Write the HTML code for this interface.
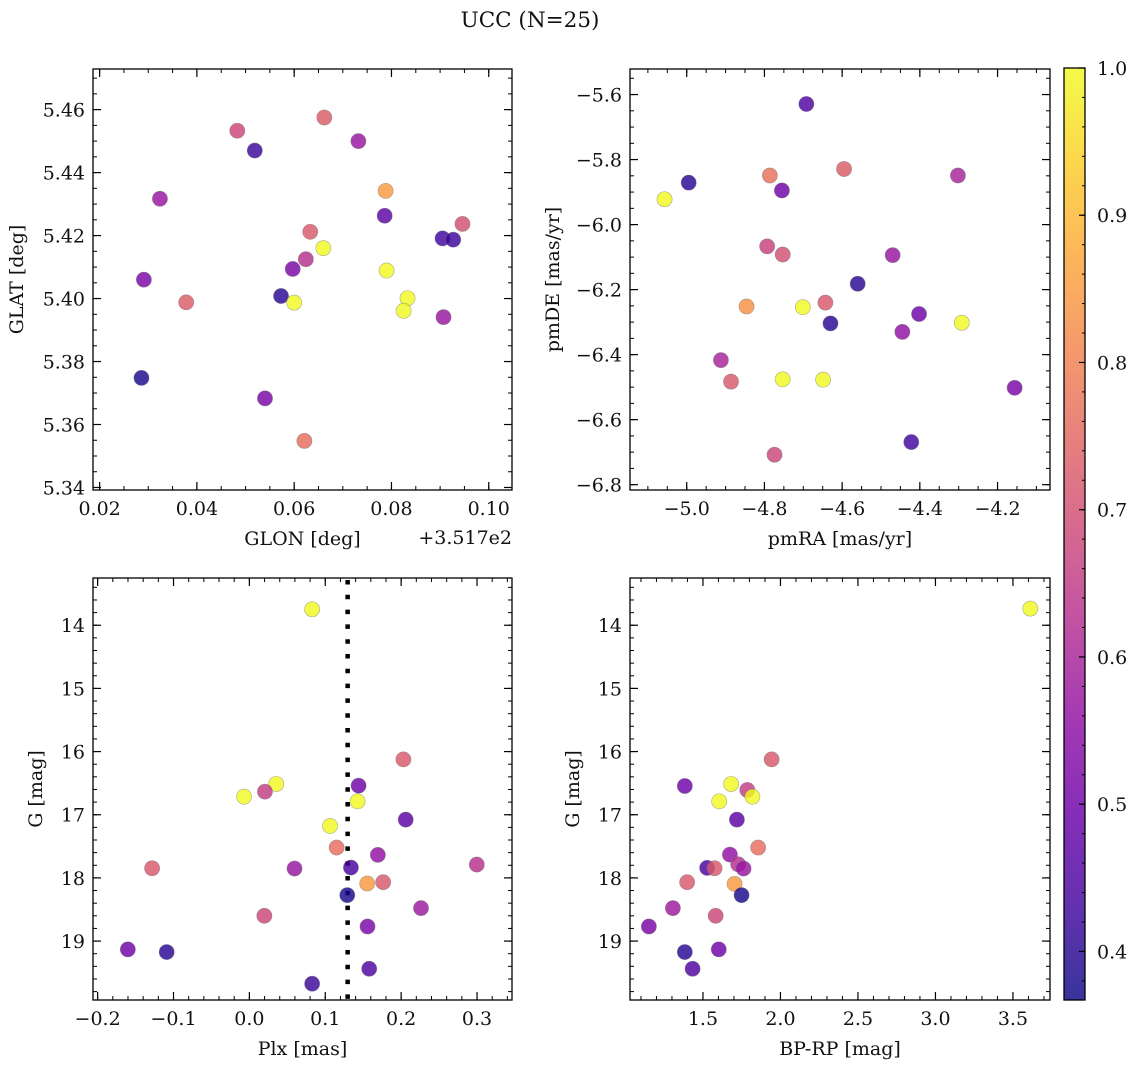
<!DOCTYPE html>
<html><head><meta charset="utf-8">
<style>
html,body{margin:0;padding:0;background:#fff;}
svg{display:block;font-family:"DejaVu Serif","Liberation Serif",serif;}
</style></head>
<body>
<svg id="fig" width="1136" height="1068" viewBox="0 0 1136 1068" xmlns="http://www.w3.org/2000/svg">
<defs>
<linearGradient id="cbgrad" x1="0" y1="1" x2="0" y2="0"></linearGradient>
</defs>
<text x="530" y="27" text-anchor="middle" font-size="21.5" fill="#111">UCC (N=25)</text>
</svg>
<script>
// ---- data ----
const p1Lon = [0.0483,0.0662,0.0519,0.0732,0.0324,0.0788,0.0786,0.0946,0.0905,0.0927,0.0633,0.0660,0.0624,0.0597,0.0790,0.0291,0.0573,0.0833,0.0378,0.0600,0.0825,0.0907,0.0286,0.0540,0.0621];
const p1Lat = [5.4533,5.4575,5.4470,5.4500,5.4317,5.4342,5.4263,5.4237,5.4191,5.4187,5.4212,5.4160,5.4125,5.4094,5.4089,5.4060,5.4008,5.4001,5.3988,5.3987,5.3961,5.3941,5.3748,5.3683,5.3548];
const p1Prob = [0.68,0.73,0.42,0.57,0.57,0.85,0.47,0.70,0.43,0.42,0.72,1.0,0.63,0.52,1.0,0.52,0.40,1.0,0.73,1.0,1.0,0.57,0.38,0.52,0.76];

const p2RA = [-4.692,-4.595,-4.786,-4.302,-4.995,-4.755,-5.057,-4.793,-4.753,-4.470,-4.560,-4.846,-4.701,-4.643,-4.630,-4.402,-4.292,-4.445,-4.912,-4.886,-4.753,-4.649,-4.156,-4.422,-4.774];
const p2DE = [-5.629,-5.829,-5.849,-5.849,-5.871,-5.895,-5.922,-6.067,-6.092,-6.094,-6.182,-6.252,-6.254,-6.240,-6.304,-6.275,-6.302,-6.330,-6.417,-6.483,-6.476,-6.477,-6.502,-6.669,-6.708];
const p2Prob = [0.45,0.73,0.77,0.60,0.40,0.50,1.0,0.67,0.70,0.57,0.40,0.83,1.0,0.72,0.40,0.50,1.0,0.56,0.60,0.72,1.0,1.0,0.52,0.43,0.68];

const p3Plx = [0.0827,0.2030,0.0354,0.1439,0.0205,-0.0070,0.1426,0.2060,0.1063,0.1150,0.1693,0.2997,-0.1282,0.0595,0.1338,0.1553,0.1763,0.1290,0.2262,0.0197,0.1557,-0.1602,-0.1090,0.1579,0.0827];
const p3G = [13.747,16.124,16.513,16.540,16.635,16.714,16.788,17.077,17.177,17.520,17.636,17.789,17.847,17.852,17.836,18.089,18.068,18.273,18.479,18.600,18.769,19.132,19.174,19.438,19.675];
const p3Prob = [1.0,0.72,1.0,0.50,0.66,1.0,1.0,0.47,1.0,0.76,0.56,0.63,0.72,0.57,0.44,0.85,0.72,0.38,0.58,0.68,0.52,0.50,0.40,0.45,0.42];
const plxMedian = 0.1295;

const p4BPRP = [3.612,1.943,1.383,1.682,1.786,1.819,1.605,1.719,1.856,1.674,1.727,1.527,1.575,1.762,1.704,1.398,1.749,1.306,1.582,1.151,1.602,1.383,1.433];
const p4G = [13.737,16.124,16.545,16.513,16.608,16.714,16.788,17.077,17.520,17.631,17.784,17.841,17.847,17.852,18.094,18.068,18.273,18.479,18.600,18.769,19.132,19.174,19.438];
const p4Prob = [1.0,0.72,0.50,1.0,0.66,1.0,1.0,0.47,0.76,0.56,0.63,0.44,0.72,0.57,0.85,0.72,0.38,0.58,0.68,0.52,0.50,0.40,0.45];

const p1XTicks = [0.02,0.04,0.06,0.08,0.10];
const p1YTicks = [5.34,5.36,5.38,5.40,5.42,5.44,5.46];
const p2XTicks = [-5.0,-4.8,-4.6,-4.4,-4.2];
const p2YTicks = [-6.8,-6.6,-6.4,-6.2,-6.0,-5.8,-5.6];
const p3XTicks = [-0.2,-0.1,0.0,0.1,0.2,0.3];
const gTicks = [14,15,16,17,18,19];
const p4XTicks = [1.5,2.0,2.5,3.0,3.5];
const cbTicks = [0.4,0.5,0.6,0.7,0.8,0.9,1.0];

// ---- helpers ----
const NS = "http://www.w3.org/2000/svg";
const svg = document.getElementById('fig');
const FS = 19;
function mk(tag, attrs, parent){
  const e = document.createElementNS(NS, tag);
  for (const k in attrs) e.setAttribute(k, attrs[k]);
  (parent||svg).appendChild(e);
  return e;
}
const plasma = [[13,8,135],[65,4,157],[106,0,168],[143,13,164],[177,42,144],[204,71,120],[225,100,98],[242,132,75],[252,166,54],[252,206,37],[240,249,33]];
const VMIN = 0.367, VMAX = 1.0;
function cmap(v){
  let t = (v-VMIN)/(VMAX-VMIN); t = Math.max(0,Math.min(1,t));
  const f = t*10, i = Math.min(9,Math.floor(f)), r = f-i;
  const a = plasma[i], b = plasma[i+1];
  return 'rgb('+[0,1,2].map(k=>Math.round(a[k]+(b[k]-a[k])*r)).join(',')+')';
}
function fmt(v, d){ const s = Math.abs(v).toFixed(d); return (v < -1e-9 ? '\u2212' : '') + s; }

function panel(cfg){
  const g = mk('g', {});
  
  
  const {L,R,T,B,xmin,xmax,ymin,ymax,yInv} = cfg;
  const sx = v => L + (v-xmin)/(xmax-xmin)*(R-L);
  const sy = v => yInv ? T + (v-ymin)/(ymax-ymin)*(B-T) : B - (v-ymin)/(ymax-ymin)*(B-T);
  const mg = mk('g', {stroke:'#000','stroke-width':1}, g);
  
  
  for (let v = Math.ceil(xmin/cfg.xminor)*cfg.xminor; v <= xmax; v += cfg.xminor){
    const x = sx(v);
    mk('line',{x1:x,x2:x,y1:B,y2:B-4},mg); mk('line',{x1:x,x2:x,y1:T,y2:T+4},mg);
  }
  const y0 = Math.min(ymin,ymax), y1 = Math.max(ymin,ymax);
  for (let v = Math.ceil(y0/cfg.yminor)*cfg.yminor; v <= y1; v += cfg.yminor){
    const y = sy(v);
    mk('line',{x1:L,x2:L+4,y1:y,y2:y},mg); mk('line',{x1:R,x2:R-4,y1:y,y2:y},mg);
  }
  cfg.xticks.forEach(v=>{
    const x = sx(v);
    mk('line',{x1:x,x2:x,y1:B,y2:B-8,stroke:'#000','stroke-width':1.2},g);
    mk('line',{x1:x,x2:x,y1:T,y2:T+8,stroke:'#000','stroke-width':1.2},g);
    const t = mk('text',{x:x,y:B+25,'text-anchor':'middle','font-size':FS,fill:'#111'},g);
    t.textContent = fmt(v, cfg.xdec);
    
    
  });
  cfg.yticks.forEach(v=>{
    const y = sy(v);
    mk('line',{x1:L,x2:L+8,y1:y,y2:y,stroke:'#000','stroke-width':1.2},g);
    mk('line',{x1:R,x2:R-8,y1:y,y2:y,stroke:'#000','stroke-width':1.2},g);
    const t = mk('text',{x:L-8,y:y+7,'text-anchor':'end','font-size':FS,fill:'#111'},g);
    t.textContent = fmt(v, cfg.ydec);
    
    
  });
  if (cfg.vline !== undefined){
    const vl = mk('line',{x1:sx(cfg.vline),x2:sx(cfg.vline),y1:T+2,y2:B,stroke:'#000','stroke-width':4.5,'stroke-dasharray':'4.5 10.3'},g);
    
    
  }
  const pg = mk('g',{},g);
  
  
  cfg.xs.forEach((xv,i)=>{
    const c = mk('circle',{cx:sx(xv),cy:sy(cfg.ys[i]),r:7.6,fill:cmap(cfg.cs[i]),'fill-opacity':0.82,stroke:'#777','stroke-opacity':0.6,'stroke-width':0.6},pg);
    
    
  });
  const fr = mk('rect',{x:L,y:T,width:R-L,height:B-T,fill:'none',stroke:'#000','stroke-width':1.3},g);
  
  
  const xl = mk('text',{x:(L+R)/2,y:B+55,'text-anchor':'middle','font-size':FS,fill:'#111'},g);
  xl.textContent = cfg.xlabel;
  
  
  const yl = mk('text',{x:0,y:0,'text-anchor':'middle','font-size':FS,fill:'#111',transform:'translate('+cfg.ylabX+','+(T+B)/2+') rotate(-90)'},g);
  yl.textContent = cfg.ylabel;
  
  
  if (cfg.offset){
    const ot = mk('text',{x:R,y:B+54,'text-anchor':'end','font-size':FS,fill:'#111'},g);
    ot.textContent = cfg.offset;
    
    
  }
}

panel({name:'glon-glat-panel',L:93,R:512,T:69,B:490,xmin:0.01864,xmax:0.10478,ymin:5.3392,ymax:5.4729,
  xminor:0.005,yminor:0.005,xticks:p1XTicks,yticks:p1YTicks,xdec:2,ydec:2,xs:p1Lon,ys:p1Lat,cs:p1Prob,
  xlabel:'GLON [deg]',ylabel:'GLAT [deg]',ylabX:23,offset:'+3.517e2'});
panel({name:'pm-panel',L:630,R:1050,T:69,B:490,xmin:-5.146,xmax:-4.065,ymin:-6.8164,ymax:-5.5214,
  xminor:0.05,yminor:0.05,xticks:p2XTicks,yticks:p2YTicks,xdec:1,ydec:1,xs:p2RA,ys:p2DE,cs:p2Prob,
  xlabel:'pmRA [mas/yr]',ylabel:'pmDE [mas/yr]',ylabX:559});
panel({name:'plx-g-panel',L:93,R:512,T:578,B:1000,xmin:-0.2061,xmax:0.3461,ymin:13.252,ymax:19.933,yInv:true,
  xminor:0.02,yminor:0.2,xticks:p3XTicks,yticks:gTicks,xdec:1,ydec:0,xs:p3Plx,ys:p3G,cs:p3Prob,
  xlabel:'Plx [mas]',ylabel:'G [mag]',ylabX:42,vline:plxMedian});
panel({name:'cmd-panel',L:630,R:1050,T:578,B:1000,xmin:1.0293,xmax:3.739,ymin:13.252,ymax:19.933,yInv:true,
  xminor:0.1,yminor:0.2,xticks:p4XTicks,yticks:gTicks,xdec:1,ydec:0,xs:p4BPRP,ys:p4G,cs:p4Prob,
  xlabel:'BP-RP [mag]',ylabel:'G [mag]',ylabX:579});

(function(){
  const L=1064,R=1085,T=68,B=1000;
  const grad = document.getElementById('cbgrad');
  for (let i=0;i<=20;i++){
    const v = VMIN + (VMAX-VMIN)*i/20;
    mk('stop',{offset:(i*5)+'%','stop-color':cmap(v),'stop-opacity':0.82},grad);
  }
  const g = mk('g',{});
  
  
  mk('rect',{x:L,y:T,width:R-L,height:B-T,fill:'url(#cbgrad)'},g);
  const sy = v => B - (v-VMIN)/(VMAX-VMIN)*(B-T);
  for (let v=0.38; v<=1.0001; v+=0.02){
    const y = sy(v);
    mk('line',{x1:R,x2:R-3,y1:y,y2:y,stroke:'#000','stroke-width':1},g);
  }
  cbTicks.forEach(v=>{
    const y = sy(v);
    mk('line',{x1:R,x2:R-6,y1:y,y2:y,stroke:'#000','stroke-width':1.2},g);
    const t = mk('text',{x:R+12,y:y+7,'font-size':FS,fill:'#111'},g);
    t.textContent = v.toFixed(1);
    
    
  });
  mk('rect',{x:L,y:T,width:R-L,height:B-T,fill:'none',stroke:'#000','stroke-width':1.3},g);
})();
</script>
</body></html>
